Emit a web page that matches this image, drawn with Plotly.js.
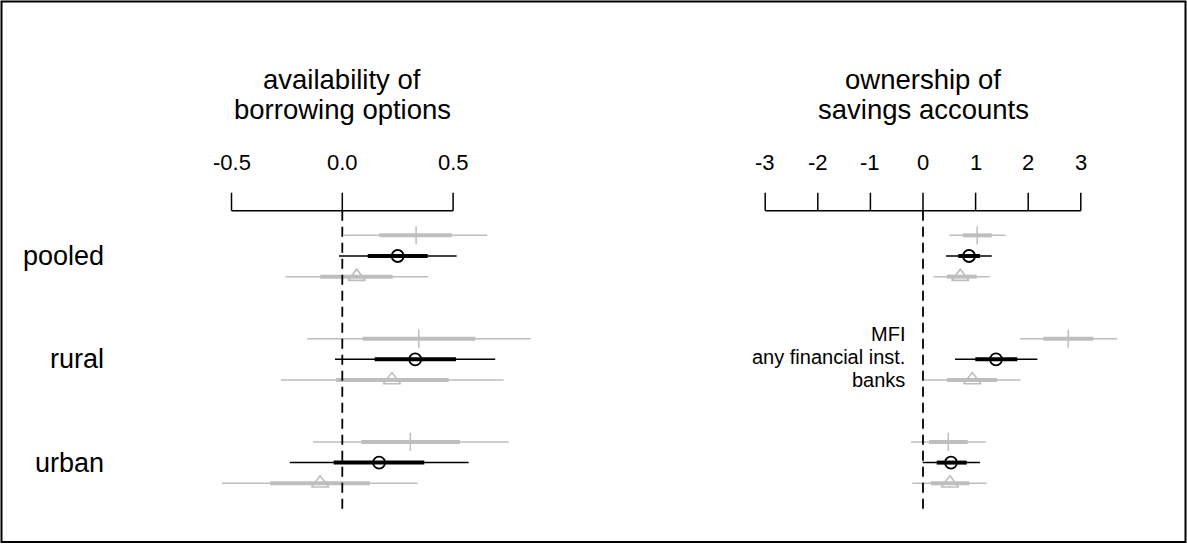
<!DOCTYPE html>
<html><head><meta charset="utf-8">
<script src="https://cdn.plot.ly/plotly-3.0.1.min.js"></script>
<style>html,body{margin:0;padding:0;background:#fff}#chart{width:1187px;height:544px}</style>
</head><body><div id="chart"></div>
<script>
// ---------- data ----------
const groups = ['pooled', 'rural', 'urban'];
const seriesNames = ['MFI', 'any financial inst.', 'banks'];
const panelTitles = [['availability of', 'borrowing options'], ['ownership of', 'savings accounts']];

const borrowTicks = [-0.5, 0, 0.5];
const borrowTickLabels = ['-0.5', '0.0', '0.5'];
const savingsTicks = [-3, -2, -1, 0, 1, 2, 3];
const savingsTickLabels = ['-3', '-2', '-1', '0', '1', '2', '3'];

// availability of borrowing options (pooled, rural, urban)
const borrow_MFI_est  = [0.333, 0.345, 0.307];
const borrow_MFI_lo95 = [0.008, -0.158, -0.132];
const borrow_MFI_hi95 = [0.654, 0.850, 0.751];
const borrow_MFI_lo90 = [0.167, 0.092, 0.086];
const borrow_MFI_hi90 = [0.494, 0.600, 0.531];

const borrow_any_est  = [0.250, 0.329, 0.166];
const borrow_any_lo95 = [-0.015, -0.033, -0.237];
const borrow_any_hi95 = [0.516, 0.690, 0.570];
const borrow_any_lo90 = [0.115, 0.146, -0.039];
const borrow_any_hi90 = [0.385, 0.513, 0.370];

const borrow_bank_est  = [0.065, 0.224, -0.100];
const borrow_bank_lo95 = [-0.257, -0.277, -0.543];
const borrow_bank_hi95 = [0.388, 0.728, 0.340];
const borrow_bank_lo90 = [-0.100, -0.028, -0.325];
const borrow_bank_hi90 = [0.227, 0.480, 0.124];

// ownership of savings accounts (pooled, rural, urban)
const save_MFI_est  = [1.03, 2.762, 0.481];
const save_MFI_lo95 = [0.50, 1.844, -0.228];
const save_MFI_hi95 = [1.572, 3.694, 1.192];
const save_MFI_lo90 = [0.755, 2.287, 0.114];
const save_MFI_hi90 = [1.306, 3.238, 0.850];

const save_any_est  = [0.875, 1.388, 0.532];
const save_any_lo95 = [0.437, 0.608, -0.006];
const save_any_hi95 = [1.306, 2.173, 1.084];
const save_any_lo90 = [0.671, 0.994, 0.260];
const save_any_hi90 = [1.084, 1.793, 0.830];

const save_bank_est  = [0.709, 0.937, 0.513];
const save_bank_lo95 = [0.196, 0.019, -0.203];
const save_bank_hi95 = [1.268, 1.857, 1.211];
const save_bank_lo90 = [0.450, 0.456, 0.146];
const save_bank_hi90 = [1.020, 1.407, 0.880];

// ---------- drawing ----------
const W = 1187, H = 544;
const py = p => 1 - p / H;
const px = p => p / W;
const GRAY = '#bebebe';
const FONT = '"Liberation Sans", Arial, Helvetica, sans-serif';

const styles = [
  {off: -0.2, color: GRAY, symbol: 'cross-thin-open', size: 13, mlw: 1.5},
  {off: 0, color: '#000000', symbol: 'circle-open', size: 12, mlw: 1.8},
  {off: 0.2, color: GRAY, symbol: 'triangle-up-open', size: 15, mlw: 1.6}
];

const traces = [];
function addSeries(xa, est, lo95, hi95, lo90, hi90, st) {
  const ys = [], xt = [], xk = [];
  groups.forEach((g, i) => {
    xt.push(lo95[i], hi95[i], null);
    xk.push(lo90[i], hi90[i], null);
    ys.push(i + st.off, i + st.off, null);
  });
  traces.push({type: 'scatter', mode: 'lines', xaxis: xa, yaxis: 'y', x: xt, y: ys,
    line: {color: st.color, width: 1.5}, hoverinfo: 'skip', showlegend: false, cliponaxis: false});
  traces.push({type: 'scatter', mode: 'lines', xaxis: xa, yaxis: 'y', x: xk, y: ys,
    line: {color: st.color, width: 4}, hoverinfo: 'skip', showlegend: false, cliponaxis: false});
  traces.push({type: 'scatter', mode: 'markers', xaxis: xa, yaxis: 'y', x: est,
    y: groups.map((g, i) => i + st.off),
    marker: {symbol: st.symbol, size: st.size, color: st.color, line: {color: st.color, width: st.mlw}},
    showlegend: false, cliponaxis: false});
}
addSeries('x', borrow_MFI_est, borrow_MFI_lo95, borrow_MFI_hi95, borrow_MFI_lo90, borrow_MFI_hi90, styles[0]);
addSeries('x', borrow_bank_est, borrow_bank_lo95, borrow_bank_hi95, borrow_bank_lo90, borrow_bank_hi90, styles[2]);
addSeries('x', borrow_any_est, borrow_any_lo95, borrow_any_hi95, borrow_any_lo90, borrow_any_hi90, styles[1]);
addSeries('x2', save_MFI_est, save_MFI_lo95, save_MFI_hi95, save_MFI_lo90, save_MFI_hi90, styles[0]);
addSeries('x2', save_bank_est, save_bank_lo95, save_bank_hi95, save_bank_lo90, save_bank_hi90, styles[2]);
addSeries('x2', save_any_est, save_any_lo95, save_any_hi95, save_any_lo90, save_any_hi90, styles[1]);

const shapes = [];
const annotations = [];
const axisY = 210.7, tickTop = 192.7, zeroBottom = 510;

function decorate(xref, ticks, labels, title) {
  const first = ticks[0], last = ticks[ticks.length - 1];
  shapes.push({type: 'line', xref: xref, yref: 'paper', x0: first, x1: last, y0: py(axisY), y1: py(axisY),
    line: {color: '#000', width: 1.5}});
  ticks.forEach((t, i) => {
    shapes.push({type: 'line', xref: xref, yref: 'paper', x0: t, x1: t, y0: py(axisY), y1: py(tickTop),
      line: {color: '#000', width: 1.5}});
    annotations.push({xref: xref, yref: 'paper', x: t, y: py(163), text: labels[i], showarrow: false,
      xanchor: 'center', yanchor: 'middle', font: {family: FONT, size: 22, color: '#000'}});
  });
  shapes.push({type: 'line', xref: xref, yref: 'paper', x0: 0, x1: 0, y0: py(axisY), y1: py(zeroBottom),
    line: {color: '#000', width: 1.8, dash: '10px,6px'}});
  const mid = (first + last) / 2;
  [79, 110].forEach((c, k) => {
    annotations.push({xref: xref, yref: 'paper', x: mid, y: py(c), text: title[k], showarrow: false,
      xanchor: 'center', yanchor: 'middle', font: {family: FONT, size: 27.5, color: '#000'}});
  });
}
decorate('x', borrowTicks, borrowTickLabels, panelTitles[0]);
decorate('x2', savingsTicks, savingsTickLabels, panelTitles[1]);

groups.forEach((g, i) => {
  annotations.push({xref: 'paper', yref: 'y', x: px(105.5), y: i, text: g, showarrow: false,
    xanchor: 'right', yanchor: 'middle', font: {family: FONT, size: 27, color: '#000'}});
});
// legend-like labels beside the "rural" row of the right panel
seriesNames.forEach((s, k) => {
  annotations.push({xref: 'paper', yref: 'y', x: px(907), y: 1 + styles[k].off, yshift: 2.3 - styles[k].off * 12,
    text: s, showarrow: false, xanchor: 'right', yanchor: 'middle',
    font: {family: FONT, size: 20, color: '#000'}});
});

// outer frame
shapes.push({type: 'rect', xref: 'paper', yref: 'paper', x0: px(1.5), x1: px(1185.5), y0: py(542), y1: py(1.5),
  line: {color: '#000', width: 2}, fillcolor: 'rgba(0,0,0,0)'});

const hidden = {showgrid: false, zeroline: false, showline: false, showticklabels: false, ticks: ''};
const layout = {
  width: W, height: H,
  margin: {l: 0, r: 0, t: 0, b: 0, pad: 0},
  paper_bgcolor: '#fff', plot_bgcolor: '#fff',
  showlegend: false,
  xaxis: Object.assign({domain: [px(180), px(580)], range: [(180 - 342.3) / 221.6, (580 - 342.3) / 221.6], anchor: 'y'}, hidden),
  xaxis2: Object.assign({domain: [px(720), px(1150)], range: [(720 - 923) / 52.6, (1150 - 923) / 52.6], anchor: 'y'}, hidden),
  yaxis: Object.assign({domain: [0, 1], range: [(544 - 256) / 103.3, -256 / 103.3], anchor: 'x'}, hidden),
  shapes: shapes,
  annotations: annotations,
  font: {family: FONT}
};
Plotly.newPlot('chart', traces, layout, {displayModeBar: false, staticPlot: true});
</script>
</body></html>
